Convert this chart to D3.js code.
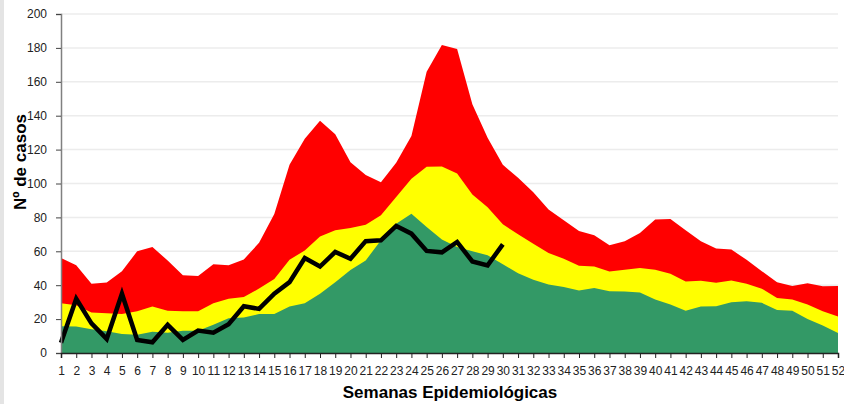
<!DOCTYPE html>
<html>
<head>
<meta charset="utf-8">
<script src="https://cdn.jsdelivr.net/npm/d3@7"></script>
<style>
  body { margin: 0; background: #fff; }
  svg { display: block; font-family: "Liberation Sans", Arial, sans-serif; }
</style>
</head>
<body>
<svg id="chart" width="844" height="404"></svg>
<script>
const weeks = d3.range(1, 53);

// limite inferior (zona de éxito)
const green = [15.8, 15.6, 14, 12.8, 11.2, 10.7, 12.6, 12, 13.2, 13.2, 16.6, 20.5, 21, 23, 23, 27.4,
  29.4, 35, 41.8, 49, 54.6, 66.5, 76.3, 82.2, 74.4, 66.9, 62.5, 60, 57.6, 52.3, 47.1, 43.2,
  40.4, 38.9, 36.9, 38.3, 36.5, 36.3, 35.7, 31.6, 28.6, 25, 27.4, 27.6, 30, 30.6, 29.6, 25.4, 25, 20.1, 16.2, 11.8];
// zona de seguridad
const yellow = [29.4, 28.2, 23.9, 23.5, 23, 24.7, 27.4, 25, 24.7, 24.7, 29.4, 32, 33, 38, 43.6, 55,
  60.5, 68.8, 72.4, 73.8, 75.7, 81.3, 92, 102.8, 109.9, 110, 105.9, 93.5, 86, 76, 70, 64.5,
  59, 55.6, 51.5, 51, 48.1, 49.1, 50.1, 49.1, 46.7, 42.2, 42.6, 41.4, 42.8, 40.8, 37.9, 32.5, 31.6, 28.6, 24.7, 21.5];
// zona de alarma
const red = [56, 51.7, 40.8, 41.6, 48.3, 60, 62.5, 54.6, 45.8, 45.4, 52.3, 51.7, 55.2, 65, 82, 111,
  126.4, 137, 129, 112.6, 105, 100.8, 112.2, 128, 165.9, 181.7, 179.3, 146.7, 127, 111, 103.4, 94.9,
  84.6, 78.3, 72, 69.4, 63.5, 65.9, 70.8, 78.7, 79, 72.4, 66, 61.7, 61, 55, 48.3, 41.8, 39.6, 41.2, 39.4, 39.6];
// casos del año actual (semanas 1-30)
const cases = [6, 32, 17.5, 8.3, 35, 7.7, 6.3, 16.6, 7.7, 13.2, 12, 17, 27.6, 26, 35, 41.8,
  56, 51, 59.6, 55.6, 66, 66.5, 75, 70.4, 60.2, 59.4, 65.5, 54, 51.7, 64.1];

const yTicks = [0, 20, 40, 60, 80, 100, 120, 140, 160, 180, 200];

const svg = d3.select('#chart');

// borde gris a la izquierda
svg.append('rect').attr('x', 0).attr('y', 0).attr('width', 4).attr('height', 404).attr('fill', '#e4e4e4');

const x = d3.scaleLinear().domain([1, 52]).range([61, 838]);
const y = d3.scaleLinear().domain([0, 200]).range([353, 14]);

// grid
svg.append('g')
  .selectAll('line')
  .data(yTicks.slice(1))
  .enter().append('line')
  .attr('x1', 61).attr('x2', 838)
  .attr('y1', d => y(d)).attr('y2', d => y(d))
  .attr('stroke', '#ececec').attr('stroke-width', 1.5);

const area = (vals) => d3.area()
  .x((d, i) => x(weeks[i]))
  .y0(y(0))
  .y1(d => y(d))(vals);

svg.append('path').attr('d', area(red)).attr('fill', '#ff0000');
svg.append('path').attr('d', area(yellow)).attr('fill', '#ffff00');
svg.append('path').attr('d', area(green)).attr('fill', '#339966');

// line
svg.append('path')
  .datum(cases)
  .attr('d', d3.line().x((d, i) => x(weeks[i])).y(d => y(d)))
  .attr('fill', 'none')
  .attr('stroke', '#000')
  .attr('stroke-width', 4.5)
  .attr('stroke-linejoin', 'miter');

// y axis
const yAxis = svg.append('g')
  .attr('transform', 'translate(61,0)')
  .call(d3.axisLeft(y).tickValues(yTicks).tickSize(5).tickPadding(9));
yAxis.select('.domain').attr('stroke', '#808080').attr('stroke-width', 1.5);
yAxis.selectAll('.tick line').attr('stroke', '#444');
yAxis.selectAll('text').attr('font-size', 12).attr('fill', '#222')
  .attr('font-family', '"Liberation Sans", Arial, sans-serif');

// x axis
const xAxis = svg.append('g')
  .attr('transform', `translate(0,${y(0)})`)
  .call(d3.axisBottom(x).tickValues(weeks).tickFormat(d3.format('d')).tickSize(5).tickPadding(8));
xAxis.select('.domain').attr('stroke', '#222').attr('stroke-width', 1.5);
xAxis.selectAll('.tick line').attr('stroke', '#222');
xAxis.selectAll('text').attr('font-size', 12).attr('fill', '#222')
  .attr('font-family', '"Liberation Sans", Arial, sans-serif');

// titles
svg.append('text')
  .attr('transform', 'translate(26,162) rotate(-90)')
  .attr('text-anchor', 'middle')
  .attr('font-size', 17).attr('font-weight', 'bold')
  .text('Nº de casos');

svg.append('text')
  .attr('x', 450).attr('y', 398)
  .attr('text-anchor', 'middle')
  .attr('font-size', 17).attr('font-weight', 'bold')
  .text('Semanas Epidemiológicas');
</script>
</body>
</html>
